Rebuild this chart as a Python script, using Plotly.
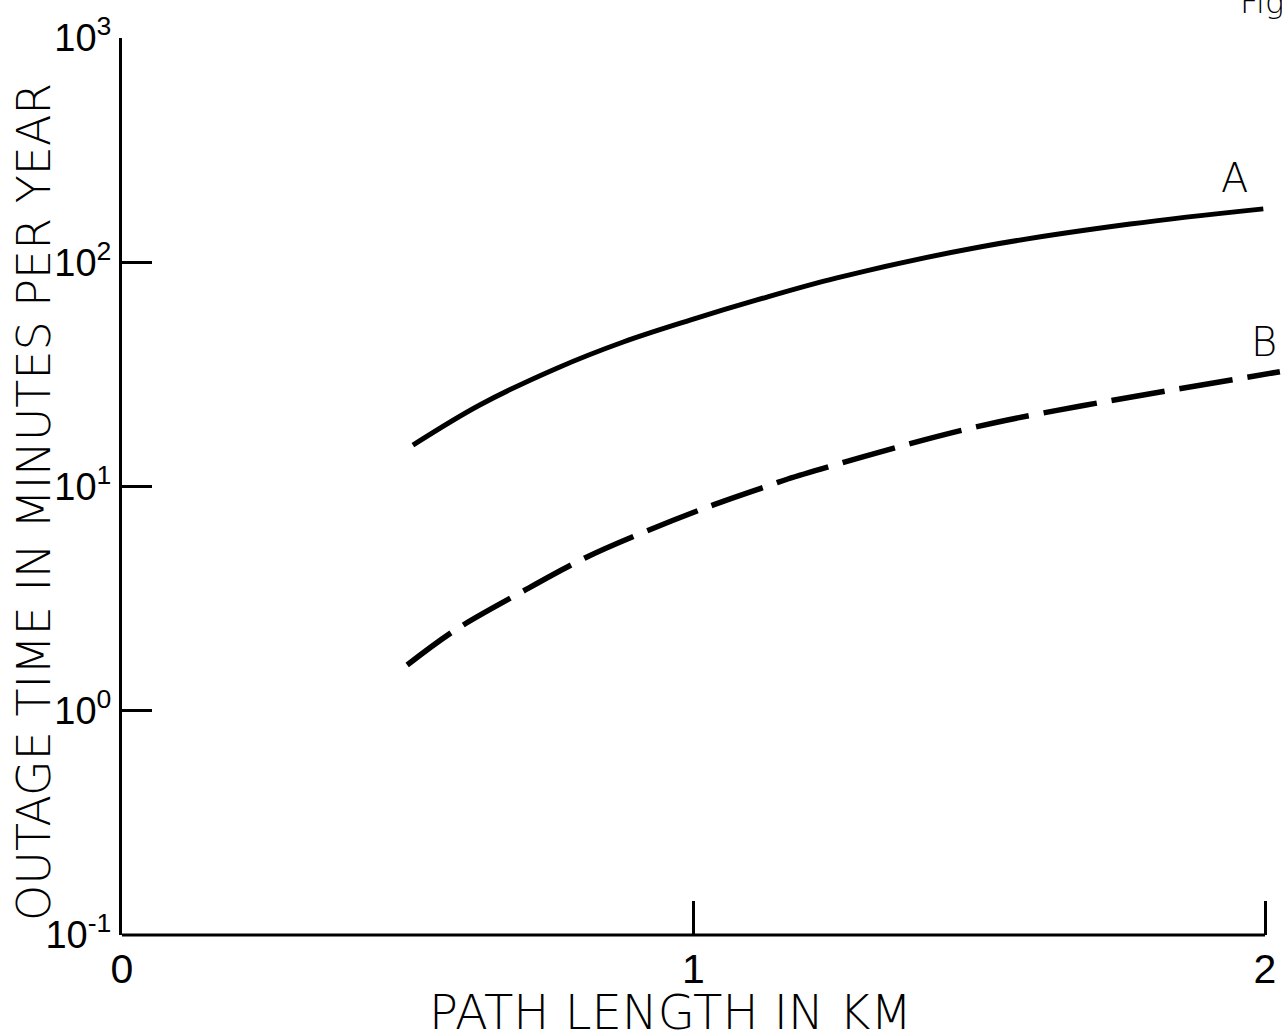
import math
import plotly.graph_objects as go

# Path length (km) and outage time (minutes per year)
x_a = [0.509, 0.626, 0.761, 0.877, 0.994, 1.111, 1.251, 1.501, 1.764, 1.997]
y_a = [15.3, 23.1, 33.7, 44.1, 55.2, 67.9, 85.2, 117, 148, 173]

x_b = [0.499, 0.583, 0.696, 0.810, 0.910, 1.025, 1.137, 1.165, 1.402, 1.533, 1.680, 1.829, 2.026]
y_b = [1.60, 2.29, 3.35, 4.80, 6.21, 8.11, 10.2, 10.8, 16.1, 19.4, 22.9, 26.7, 32.5]

x_tickvals = [0, 1, 2]
x_ticktext = ["0", "1", "2"]
y_tickvals = [0.1, 1, 10, 100, 1000]
y_ticktext = ["10<sup>-1</sup>", "10<sup>0</sup>", "10<sup>1</sup>", "10<sup>2</sup>", "10<sup>3</sup>"]

# curve label positions (km, minutes per year)
label_a = (1.946, 237.0)
label_b = (1.998, 44.0)

TITLE_FONT = "DejaVu Sans ExtraLight, DejaVu Sans Light, DejaVu Sans"
TICK_FONT = "Liberation Sans"

fig = go.Figure()
fig.add_trace(go.Scatter(x=x_a, y=y_a, mode="lines", name="A",
                         line=dict(color="black", width=5, shape="spline")))
fig.add_trace(go.Scatter(x=x_b, y=y_b, mode="lines", name="B",
                         line=dict(color="black", width=5.5, shape="spline", dash="54px,15px")))

fig.update_layout(
    width=1282, height=1036,
    margin=dict(l=122, r=0, t=38, b=101),
    paper_bgcolor="white", plot_bgcolor="white",
    showlegend=False,
    font=dict(family=TICK_FONT, color="black", size=40),
    xaxis=dict(range=[0, 2.0297], showgrid=False, zeroline=False, showline=False,
               tickmode="array", tickvals=x_tickvals, ticktext=x_ticktext,
               ticks="inside", ticklen=34, tickwidth=3, tickcolor="black",
               tickfont=dict(size=41, family=TICK_FONT), ticklabelstandoff=6),
    yaxis=dict(type="log", range=[-1, 3], showgrid=False, zeroline=False,
               showline=True, linewidth=3, linecolor="black",
               tickmode="array", tickvals=y_tickvals, ticktext=y_ticktext,
               ticks="inside", ticklen=30, tickwidth=2.5, tickcolor="black",
               tickfont=dict(size=38, family=TICK_FONT), ticklabelstandoff=0),
)

# x axis baseline from 0 to 2 km
fig.add_shape(type="line", xref="x", yref="paper", x0=0, x1=2, y0=0, y1=0,
              line=dict(color="black", width=3))

# Axis titles
fig.add_annotation(text="PATH LENGTH IN KM", xref="paper", yref="paper",
                   x=(670 - 122) / 1160, y=0, yshift=-77, showarrow=False,
                   xanchor="center", yanchor="middle",
                   font=dict(size=48, family=TITLE_FONT))
fig.add_annotation(text="OUTAGE TIME IN MINUTES PER YEAR", xref="paper", yref="paper",
                   x=0, xshift=-88, y=(935 - 502) / 897, showarrow=False, textangle=-90,
                   xanchor="center", yanchor="middle",
                   font=dict(size=46, family=TITLE_FONT))

# Curve labels (annotation y on a log axis is given in log10 units)
fig.add_annotation(text="A", x=label_a[0], y=math.log10(label_a[1]), xref="x", yref="y",
                   showarrow=False, font=dict(size=40, family=TITLE_FONT))
fig.add_annotation(text="B", x=label_b[0], y=math.log10(label_b[1]), xref="x", yref="y",
                   showarrow=False, font=dict(size=40, family=TITLE_FONT))

# Cropped figure caption at top right (cut off in the original too)
fig.add_annotation(text="Fig", xref="x", yref="paper", x=1.953, y=1, yshift=15,
                   xanchor="left", yanchor="bottom", showarrow=False,
                   font=dict(size=32, family=TITLE_FONT))

fig.write_html("out.html")
